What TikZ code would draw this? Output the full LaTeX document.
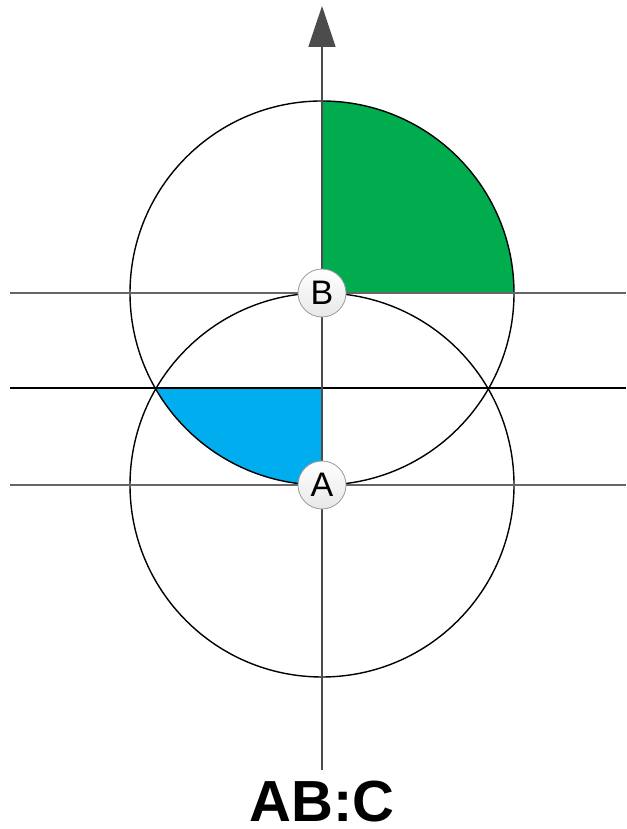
\documentclass[tikz,border=0pt]{standalone}
\usepackage{fontspec}
\setmainfont{Liberation Sans}
\usetikzlibrary{arrows.meta, calc}
\definecolor{quadgreen}{HTML}{00AC4E}
\definecolor{quadblue}{HTML}{00ADEE}

\begin{document}
\begin{tikzpicture}[x=1pt, y=1pt,
  rim/.style={draw=black, line width=1.4pt},
  guide/.style={draw=gray!80!black, line width=1.5pt},
  midline/.style={draw=black, line width=1.6pt},
  axis/.style={draw=black!70, line width=1.5pt, -{Triangle[length=41pt, width=27pt]}},
  pt/.style={circle, draw=gray!80, line width=0.8pt, top color=white, bottom color=gray!18,
    minimum size=48pt, inner sep=0pt, font=\fontsize{34}{34}\selectfont}]
  \useasboundingbox (0,0) rectangle (626,829);
  \coordinate (cb) at (322,536);
  \coordinate (ca) at (322,344);
  % filled quarters
  \fill[quadgreen] (cb) -- ++(0,192) arc[start angle=90, end angle=0, radius=192] -- cycle;
  \fill[quadblue] (322,441) -- ($(cb)+(209.66:192)$) arc[start angle=209.66, end angle=270, radius=192] -- cycle;
  % circles
  \draw[rim] (cb) circle[radius=192];
  \draw[rim] (ca) circle[radius=192];
  % horizontal lines
  \draw[guide] (10,536) -- (626,536);
  \draw[midline] (10,441) -- (626,441);
  \draw[guide] (10,344) -- (626,344);
  % axis
  \coordinate (bot) at (322,59);
  \coordinate (top) at (322,823);
  \draw[axis] (bot) -- (top);
  % labels
  \node[pt] (B) at (cb) {B};
  \node[pt] (A) at (ca) {A};
  \node[font=\fontsize{58}{58}\selectfont\bfseries, inner sep=0pt, anchor=base] (title) at (322,8) {AB:C};
\end{tikzpicture}
\end{document}
